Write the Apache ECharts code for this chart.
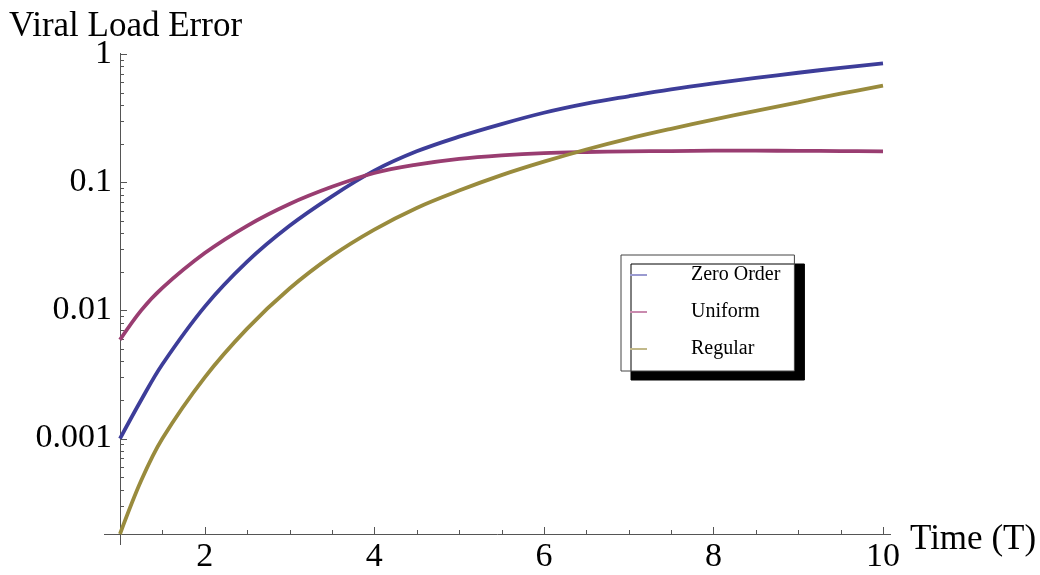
<!DOCTYPE html>
<html>
<head>
<meta charset="utf-8">
<title>Viral Load Error</title>
<script src="https://cdn.jsdelivr.net/npm/echarts@6/dist/echarts.min.js"></script>
<style>
html, body { margin: 0; padding: 0; background: #fff; }
#chart { width: 1040px; height: 575px; }
</style>
</head>
<body>
<div id="chart"></div>
<script>
// data
const timeValues = [1, 1.25, 1.5, 2, 2.5, 3, 3.5, 4, 4.5, 5, 5.5, 6, 6.5, 7, 7.5, 8, 8.5, 9, 9.5, 10];
const zeroOrder = [0.001, 0.002, 0.0038, 0.0107, 0.024, 0.0457, 0.0776, 0.123, 0.174, 0.2265, 0.284, 0.348, 0.41, 0.468, 0.53, 0.59, 0.65, 0.714, 0.78, 0.845];
const uniform = [0.0059, 0.010, 0.015, 0.028, 0.0457, 0.0676, 0.092, 0.118, 0.137, 0.152, 0.162, 0.1687, 0.172, 0.174, 0.175, 0.176, 0.176, 0.1755, 0.175, 0.174];
const regular = [0.00018, 0.00047, 0.001, 0.003, 0.0072, 0.0148, 0.0266, 0.0427, 0.063, 0.086, 0.1135, 0.1445, 0.18, 0.219, 0.261, 0.308, 0.36, 0.42, 0.49, 0.566];

const seriesNames = ['Zero Order', 'Uniform', 'Regular'];
const seriesValues = [zeroOrder, uniform, regular];
const lineColors = ['#3d3d99', '#993d71', '#998b3d'];
const legendColors = ['#9a9ad0', '#c98aae', '#c2b98a'];

const xTickLabels = [2, 4, 6, 8, 10];
const xMinorTicks = [1.5, 2.5, 3, 3.5, 4.5, 5, 5.5, 6.5, 7, 7.5, 8.5, 9, 9.5];
const yTickValues = [0.001, 0.01, 0.1, 1];
const yTickLabels = ['0.001', '0.01', '0.1', '1'];
const yMin = 0.00018;
const yMax = 1;

// minor log ticks 2..9 in each decade
const yMinorTicks = [];
[0.0001, 0.001, 0.01, 0.1].forEach(d => {
  for (let k = 2; k <= 9; k++) {
    const v = +(k * d).toPrecision(2);
    if (v > yMin) yMinorTicks.push(v);
  }
});

const serif = 'Liberation Serif';
const axisColor = '#555';

// axis lines and ticks, drawn Mathematica style (inward)
const axisItems = [{ kind: 'xline' }, { kind: 'yline' }]
  .concat(xTickLabels.map(v => ({ kind: 'x', v: v, len: 7 })))
  .concat(xMinorTicks.map(v => ({ kind: 'x', v: v, len: 4 })))
  .concat(yTickValues.map(v => ({ kind: 'y', v: v, len: 7 })))
  .concat(yMinorTicks.map(v => ({ kind: 'y', v: v, len: 4 })));

const crisp = n => Math.round(n) + 0.5;

function renderAxes(params, api) {
  const it = axisItems[params.dataIndex];
  let x1, y1, x2, y2;
  if (it.kind === 'xline') {
    const a = api.coord([1, yMin]), b = api.coord([10, yMin]);
    x1 = a[0] - 16; y1 = crisp(a[1]); x2 = b[0] + 8; y2 = y1;
  } else if (it.kind === 'yline') {
    const a = api.coord([1, yMax]), b = api.coord([1, yMin]);
    x1 = crisp(a[0]); y1 = a[1] - 1; x2 = x1; y2 = b[1] + 11;
  } else if (it.kind === 'x') {
    const p = api.coord([it.v, yMin]);
    x1 = crisp(p[0]); y1 = p[1]; x2 = x1; y2 = p[1] - it.len;
  } else {
    const p = api.coord([1, it.v]);
    x1 = p[0]; y1 = crisp(p[1]); x2 = p[0] + it.len; y2 = y1;
  }
  return {
    type: 'line',
    shape: { x1: x1, y1: y1, x2: x2, y2: y2 },
    style: { stroke: axisColor, lineWidth: 1 }
  };
}

const chart = echarts.init(document.getElementById('chart'));

chart.setOption({
  backgroundColor: '#fff',
  animation: false,
  title: {
    text: 'Viral Load Error',
    left: 9,
    top: 9,
    padding: 0,
    textStyle: { fontFamily: serif, fontSize: 35, fontWeight: 'normal', color: '#000' }
  },
  legend: {
    orient: 'vertical',
    left: 621,
    top: 255,
    padding: [10, 14, 12, 9],
    itemGap: 17,
    itemWidth: 17,
    itemHeight: 2,
    icon: 'rect',
    backgroundColor: '#fff',
    borderColor: '#444',
    borderWidth: 1,
    shadowColor: '#000',
    shadowBlur: 0,
    shadowOffsetX: 10,
    shadowOffsetY: 9,
    textStyle: { fontFamily: serif, fontSize: 20, color: '#000', padding: [0, 0, 0, 39] },
    data: seriesNames.map((n, i) => ({ name: n, itemStyle: { color: legendColors[i] } }))
  },
  grid: { left: 120, right: 157, top: 54, bottom: 41 },
  xAxis: {
    type: 'value',
    min: 1,
    max: 10,
    interval: 1,
    axisLine: { show: false },
    axisTick: { show: false },
    splitLine: { show: false },
    axisLabel: {
      margin: 6,
      fontFamily: serif,
      fontSize: 34,
      color: '#000',
      formatter: v => (xTickLabels.indexOf(v) >= 0 ? String(v) : '')
    },
    name: 'Time (T)',
    nameLocation: 'end',
    nameGap: 27,
    nameTextStyle: { fontFamily: serif, fontSize: 35, color: '#000', verticalAlign: 'top', lineHeight: 12 }
  },
  yAxis: {
    type: 'log',
    logBase: 10,
    min: yMin,
    max: yMax,
    axisLine: { show: false },
    axisTick: { show: false },
    splitLine: { show: false },
    minorTick: { show: false },
    axisLabel: {
      margin: 8,
      fontFamily: serif,
      fontSize: 34,
      color: '#000',
      formatter: v => {
        const e = Math.log10(v);
        const idx = yTickValues.findIndex(t => Math.abs(Math.log10(t) - e) < 1e-6);
        return idx >= 0 ? yTickLabels[idx] : '';
      }
    }
  },
  series: [
    {
      name: 'axes',
      type: 'custom',
      silent: true,
      clip: false,
      z: 1,
      renderItem: renderAxes,
      data: axisItems.map(d => [d.kind === 'x' ? d.v : 1, d.kind === 'y' ? d.v : yMin])
    }
  ].concat(seriesNames.map((name, i) => ({
    name: name,
    type: 'line',
    z: 2,
    smooth: 0.35,
    showSymbol: false,
    clip: false,
    color: lineColors[i],
    lineStyle: { color: lineColors[i], width: 3.8 },
    data: timeValues.map((t, j) => [t, seriesValues[i][j]])
  })))
});
</script>
</body>
</html>
